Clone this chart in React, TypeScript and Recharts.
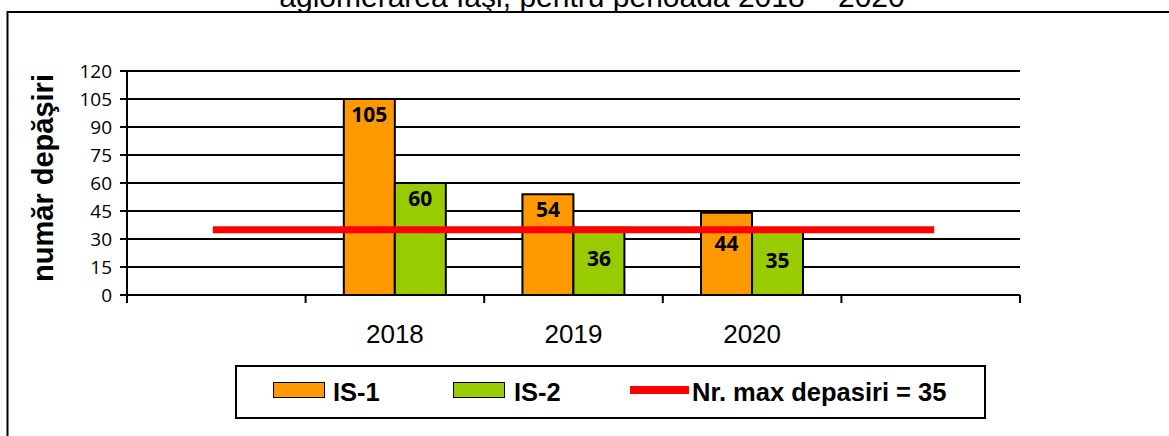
import React from 'react';
import { ComposedChart, Bar, Line, XAxis, YAxis, CartesianGrid, Legend, LabelList } from 'recharts';

const categories = ['', '2018', '2019', '2020', ''];
const is1Values: (number | null)[] = [null, 105, 54, 44, null];
const is2Values: (number | null)[] = [null, 60, 36, 35, null];
const limitValues = [35, 35, 35, 35, 35];
const yTicks = [0, 15, 30, 45, 60, 75, 90, 105, 120];
const LIMIT = 35;
const titleText = 'aglomerarea Iaşi, pentru perioada 2018 – 2020';
const yTitle = 'număr depăşiri';
const nameIS1 = 'IS-1';
const nameIS2 = 'IS-2';
const nameLimit = 'Nr. max depasiri = 35';

const data = categories.map((c, i) => ({
  cat: c,
  is1: is1Values[i],
  is2: is2Values[i],
  limit: limitValues[i],
}));

const W = 1169;
const H = 436;
const MARGIN = { top: 71, right: 149, bottom: 81, left: 67 };
const Y_W = 60;
const X_H = 60;
const PLOT_W = W - MARGIN.left - Y_W - MARGIN.right;

const ORANGE = '#FF9900';
const GREEN = '#99CC00';
const RED = '#FF0000';

const XTick = (props: any) => {
  const { x, y, payload, index } = props;
  const slot = PLOT_W / categories.length;
  const left = x - slot / 2;
  const right = x + slot / 2;
  return (
    <g>
      <line x1={left} x2={left} y1={y} y2={y + 8} stroke="#000" strokeWidth={2} />
      {index === categories.length - 1 && (
        <line x1={right} x2={right} y1={y} y2={y + 8} stroke="#000" strokeWidth={2} />
      )}
      <text x={x} y={y + 48} textAnchor="middle" fontFamily="Liberation Sans, Arial" fontSize={26} fill="#000">
        {payload.value}
      </text>
    </g>
  );
};

const renderBarLabel = (props: any) => {
  const { x, y, width, value } = props;
  if (value === null || value === undefined) return null;
  const off = value - LIMIT < 12 ? 30 : 15;
  return (
    <text
      x={x + width / 2}
      y={y + off}
      textAnchor="middle"
      dominantBaseline="central"
      fontFamily="Open Sans"
      fontWeight="bold"
      fontSize={21}
      fill="#000"
    >
      {value}
    </text>
  );
};

const YTitle = (props: any) => {
  const vb = props.viewBox || { x: 0, y: 0, width: 0, height: 0 };
  const cx = vb.x - 14;
  const cy = vb.y + vb.height / 2 - 5;
  return (
    <text
      x={cx}
      y={cy}
      transform={`rotate(-90, ${cx}, ${cy})`}
      textAnchor="middle"
      fontFamily="Liberation Sans, Arial"
      fontWeight="bold"
      fontSize={29}
      fill="#000"
    >
      {yTitle}
    </text>
  );
};

const LegendBox = () => {
  const txt: React.CSSProperties = {
    position: 'absolute',
    top: 0,
    height: 50,
    lineHeight: '50px',
    fontFamily: 'Liberation Sans, Arial',
    fontWeight: 'bold',
    fontSize: 25.5,
    color: '#000',
    whiteSpace: 'nowrap',
  };
  const sw = (left: number, color: string): React.CSSProperties => ({
    position: 'absolute',
    left,
    top: 15,
    width: 50,
    height: 14,
    background: color,
    border: '1.5px solid #000',
  });
  return (
    <div
      style={{
        position: 'relative',
        width: 747,
        height: 50,
        border: '2px solid #000',
        background: '#fff',
      }}
    >
      <div style={sw(36, ORANGE)} />
      <div style={{ ...txt, left: 96 }}>{nameIS1}</div>
      <div style={sw(216, GREEN)} />
      <div style={{ ...txt, left: 277 }}>{nameIS2}</div>
      <div style={{ position: 'absolute', left: 393, top: 19, width: 59, height: 8, background: RED }} />
      <div style={{ ...txt, left: 455 }}>{nameLimit}</div>
    </div>
  );
};

export default function App() {
  return (
    <div style={{ position: 'absolute', left: 0, top: 0, width: W, height: H, overflow: 'hidden', background: '#fff' }}>
      <ComposedChart
        width={W}
        height={H}
        data={data}
        margin={MARGIN}
        barCategoryGap="21.4%"
        barGap={0}
      >
        <CartesianGrid vertical={false} stroke="#000" strokeWidth={2} strokeOpacity={1} yAxisId="left" />
        <XAxis
          dataKey="cat"
          interval={0}
          height={X_H}
          tickLine={false}
          tickSize={0}
          tickMargin={0}
          axisLine={{ stroke: '#000', strokeWidth: 2 }}
          tick={<XTick />}
        />
        <YAxis
          yAxisId="left"
          domain={[0, 120]}
          ticks={yTicks}
          interval={0}
          width={Y_W}
          tickSize={7}
          tickMargin={8}
          tickLine={{ stroke: '#000', strokeWidth: 2 }}
          axisLine={{ stroke: '#000', strokeWidth: 2 }}
          tick={{ fill: '#000', fontSize: 19, fontFamily: 'Open Sans' }}
          label={{ content: <YTitle /> }}
        />
        <YAxis
          yAxisId="right"
          orientation="right"
          domain={[0, 120]}
          width={0}
          tick={false}
          tickLine={false}
          axisLine={{ stroke: '#000', strokeWidth: 2 }}
        />
        <Legend
          layout="horizontal"
          verticalAlign="middle"
          align="center"
          content={() => <LegendBox />}
          wrapperStyle={{ position: 'absolute', left: 235, top: 365, width: 751, height: 54 }}
        />
        <Bar yAxisId="left" dataKey="is1" name={nameIS1} fill={ORANGE} stroke="#000" strokeWidth={2} isAnimationActive={false}>
          <LabelList dataKey="is1" content={renderBarLabel} />
        </Bar>
        <Bar yAxisId="left" dataKey="is2" name={nameIS2} fill={GREEN} stroke="#000" strokeWidth={2} isAnimationActive={false}>
          <LabelList dataKey="is2" content={renderBarLabel} />
        </Bar>
        <Line
          yAxisId="left"
          dataKey="limit"
          name={nameLimit}
          stroke={RED}
          strokeWidth={7}
          strokeLinecap="square"
          dot={false}
          activeDot={false}
          isAnimationActive={false}
        />
      </ComposedChart>
      <svg
        width={W}
        height={H}
        style={{ position: 'absolute', left: 0, top: 0, pointerEvents: 'none' }}
      >
        <rect x={7.5} y={12} width={1300} height={600} fill="none" stroke="#000" strokeWidth={2} />
        <text x={592} y={7} textAnchor="middle" fontFamily="Liberation Sans, Arial" fontSize={30} fill="#000">
          {titleText}
        </text>
      </svg>
    </div>
  );
}
